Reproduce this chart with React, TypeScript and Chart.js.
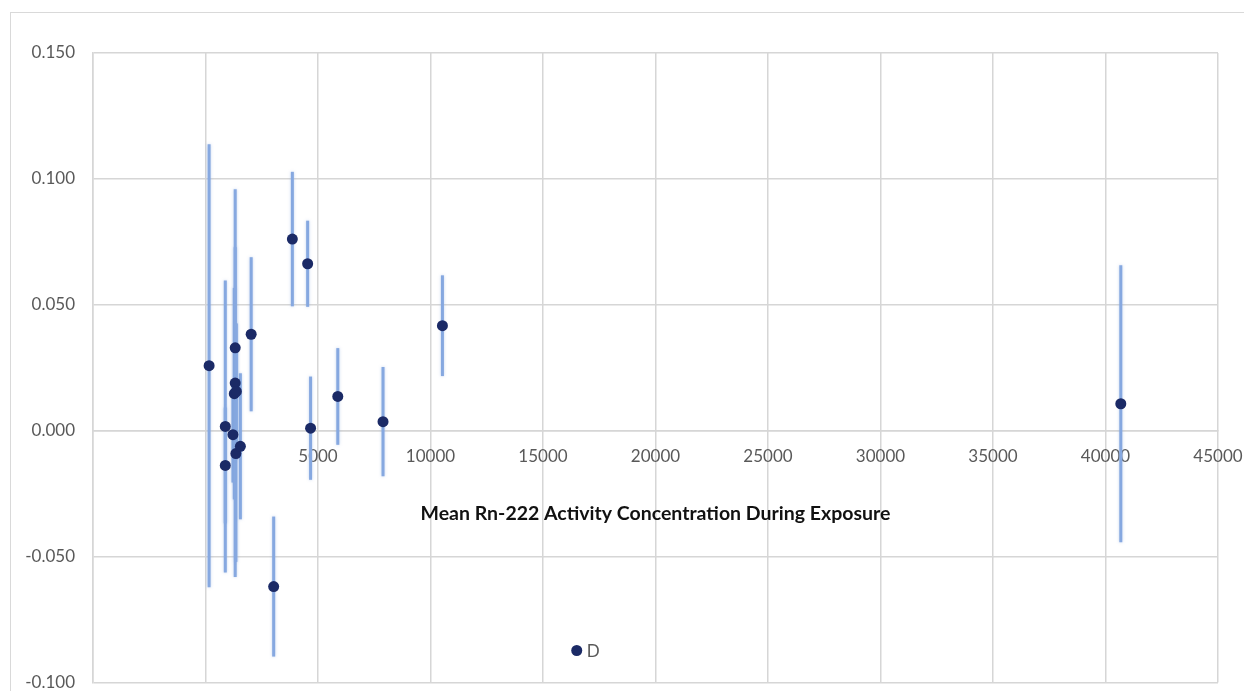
import React, { useEffect, useRef } from "react";
import { Chart, registerables } from "chart.js";

Chart.register(...registerables);

// ---- data ----
const seriesName = "D";
const xAxisTitle = "Mean Rn-222 Activity Concentration During Exposure";
const exposureX = [160, 880, 880, 1220, 1280, 1320, 1320, 1350, 1370, 1550, 2030, 3030, 3860, 4540, 4670, 5880, 7890, 10530, 40680];
const effectY = [0.0258, 0.0017, -0.0138, -0.0016, 0.0147, 0.0329, 0.0189, -0.0091, 0.0156, -0.0062, 0.0383, -0.0619, 0.0761, 0.0663, 0.001, 0.0136, 0.0036, 0.0417, 0.0107];
const errorY = [0.088, 0.058, 0.023, 0.019, 0.042, 0.04, 0.077, 0.043, 0.027, 0.029, 0.0306, 0.0278, 0.0267, 0.0171, 0.0205, 0.0192, 0.0217, 0.02, 0.055];
const xRange = [-5000, 45000];
const xStep = 5000;
const yRange = [-0.1, 0.15];
const yStep = 0.05;

// ---- styles ----
const POINT_COLOR = "#1B2A66";
const BAR_COLOR = "#86A8E0";
const GRID_COLOR = "#D6D6D6";
const TICK_COLOR = "#595959";
const FONT = "Lato";

const errorBarPlugin = {
  id: "errorBars",
  beforeDatasetsDraw(chart: any) {
    const { ctx, scales } = chart;
    const xs = scales.x;
    const ys = scales.y;
    ctx.save();
    ctx.strokeStyle = BAR_COLOR;
    ctx.lineWidth = 3;
    ctx.lineCap = "butt";
    ctx.shadowColor = "rgba(134,168,224,0.5)";
    ctx.shadowBlur = 3;
    exposureX.forEach((xv, i) => {
      const px = xs.getPixelForValue(xv);
      const top = ys.getPixelForValue(effectY[i] + errorY[i]);
      const bot = ys.getPixelForValue(effectY[i] - errorY[i]);
      ctx.beginPath();
      ctx.moveTo(px, top);
      ctx.lineTo(px, bot);
      ctx.stroke();
    });
    ctx.restore();
  },
};

const legendPlugin = {
  id: "insideLegend",
  afterDraw(chart: any) {
    const { ctx, chartArea } = chart;
    const cx = chartArea.left + (chartArea.right - chartArea.left) * 0.43;
    const cy = chartArea.bottom - 32;
    ctx.save();
    ctx.fillStyle = POINT_COLOR;
    ctx.beginPath();
    ctx.arc(cx, cy, 5.5, 0, Math.PI * 2);
    ctx.fill();
    ctx.fillStyle = TICK_COLOR;
    ctx.font = `17px ${FONT}`;
    ctx.textBaseline = "middle";
    ctx.textAlign = "left";
    ctx.fillText(chart.data.datasets[0].label, cx + 10, cy + 1);
    ctx.restore();
  },
};

export default function App() {
  const canvasRef = useRef<HTMLCanvasElement | null>(null);

  useEffect(() => {
    if (!canvasRef.current) return;
    const chart = new Chart(canvasRef.current, {
      type: "scatter",
      data: {
        datasets: [
          {
            label: seriesName,
            data: exposureX.map((x, i) => ({ x, y: effectY[i] })),
            backgroundColor: POINT_COLOR,
            borderColor: POINT_COLOR,
            borderWidth: 0,
            pointRadius: 5.5,
            pointHoverRadius: 5.5,
            showLine: false,
          },
        ],
      },
      options: {
        animation: false,
        responsive: false,
        maintainAspectRatio: false,
        layout: { padding: { left: 0, top: 40, right: 26, bottom: 8 } },
        plugins: {
          legend: { display: false },
          tooltip: { enabled: false },
        },
        scales: {
          x: {
            type: "linear",
            position: { y: 0 } as any,
            min: xRange[0],
            max: xRange[1],
            ticks: {
              stepSize: xStep,
              padding: 0,
              color: TICK_COLOR,
              font: { family: FONT, size: 17 },
              maxRotation: 0,
              autoSkip: false,
              callback: (v: any) => (Number(v) > 0 ? String(v) : ""),
            },
            grid: {
              color: GRID_COLOR,
              lineWidth: 1.5,
              drawTicks: true,
              tickLength: 16,
              tickColor: "rgba(0,0,0,0)",
            },
            border: { color: GRID_COLOR, width: 1.5 },
            title: {
              display: true,
              text: xAxisTitle,
              color: "#111111",
              font: { family: FONT, size: 19.5, weight: "bold" },
              padding: { top: 35, bottom: 0 },
            },
          },
          y: {
            type: "linear",
            min: yRange[0],
            max: yRange[1],
            ticks: {
              stepSize: yStep,
              padding: 0,
              color: TICK_COLOR,
              font: { family: FONT, size: 17, lineHeight: 1 },
              callback: (v: any) => (Math.abs(Number(v)) < 1e-9 ? "0.000" : Number(v).toFixed(3)),
            },
            grid: {
              color: GRID_COLOR,
              lineWidth: 1.5,
              drawTicks: true,
              tickLength: 18,
              tickColor: "rgba(0,0,0,0)",
            },
            border: { color: GRID_COLOR, width: 1.5 },
            afterFit: (s: any) => {
              s.width = 82;
            },
          },
        },
      },
      plugins: [errorBarPlugin, legendPlugin],
    });
    return () => chart.destroy();
  }, []);

  return (
    <div
      style={{
        position: "absolute",
        left: 10,
        top: 12,
        width: 1234,
        height: 679,
        boxSizing: "border-box",
        borderTop: "1px solid #D9D9D9",
        borderLeft: "1px solid #D9D9D9",
        background: "#FFFFFF",
        overflow: "hidden",
      }}
    >
      <canvas ref={canvasRef} width={1233} height={678} style={{ display: "block", width: 1233, height: 678 }} />
    </div>
  );
}
